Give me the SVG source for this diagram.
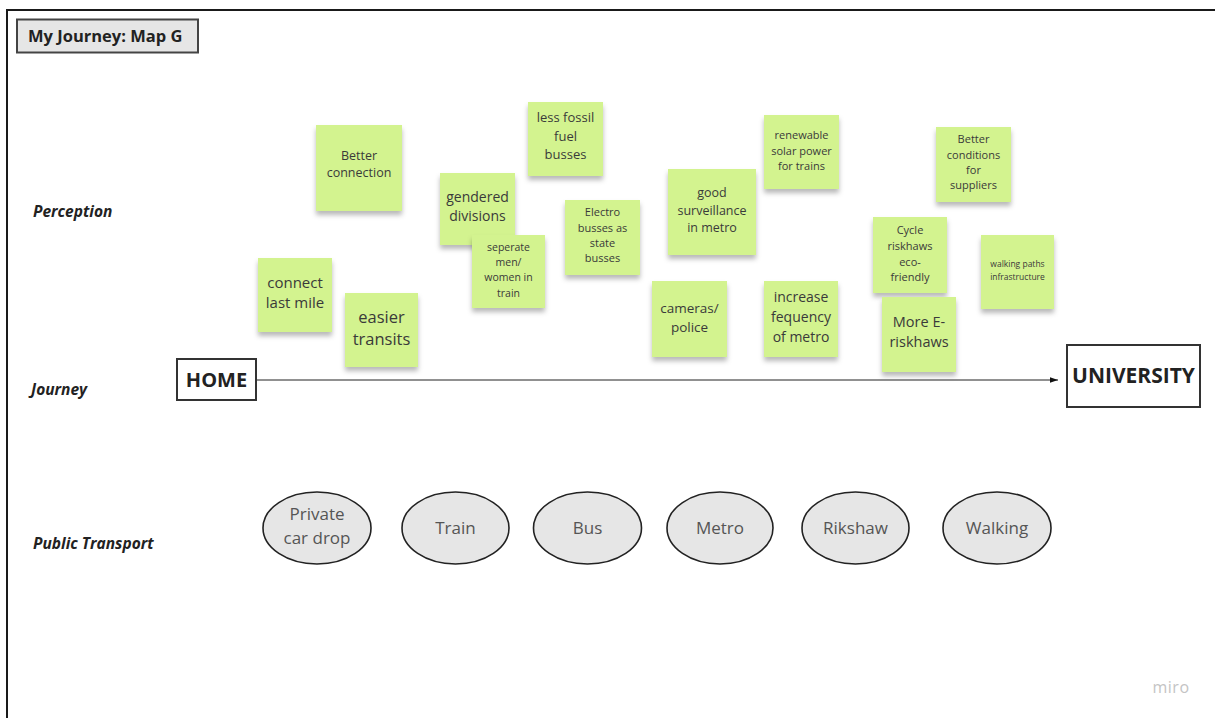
<svg xmlns="http://www.w3.org/2000/svg" width="1215" height="718" viewBox="0 0 1215 718">
<style>
text{font-family:"Open Sans","Noto Sans","Liberation Sans",sans-serif;}
.sticky{fill:#d3f38f;filter:url(#sh);}
.st{fill:#3a3a3a;text-anchor:middle;}
.lane{font-weight:bold;font-style:italic;font-size:15.500px;fill:#222;}
.ell{fill:#e6e6e6;stroke:#222;stroke-width:1.6;}
.et{fill:#555;font-size:17px;text-anchor:middle;}
.box{fill:#fff;stroke:#333;stroke-width:2;}
.bt{font-weight:bold;fill:#222;text-anchor:middle;}
</style>
<defs>
<filter id="sh" x="-20%" y="-20%" width="140%" height="150%">
<feDropShadow dx="0" dy="4" stdDeviation="2.5" flood-color="#000" flood-opacity="0.28"/>
</filter>
<marker id="arr" viewBox="0 0 10 10" refX="10" refY="5" markerWidth="12" markerHeight="8" markerUnits="userSpaceOnUse" orient="auto">
<path d="M0,1.5 L10,5 L0,8.5 Z" fill="#111"/>
</marker>
</defs>
<rect width="1215" height="718" fill="#fff"/>
<path d="M7,718 V10 H1215" fill="none" stroke="#1a1a1a" stroke-width="2"/>

<g id="title">
<rect x="17" y="19.500" width="181" height="33" fill="#e6e6e6" stroke="#444" stroke-width="2"/>
<text x="28" y="42" font-size="16.500" font-weight="bold" fill="#222">My Journey: Map G</text>
</g>

<g id="lanes">
<text class="lane" x="33" y="217">Perception</text>
<text class="lane" x="31" y="395">Journey</text>
<text class="lane" x="33" y="549">Public Transport</text>
</g>

<g id="connectors">
<line x1="256" y1="380" x2="1058" y2="380" stroke="#222" stroke-width="1" marker-end="url(#arr)"/>
</g>

<g id="home">
<rect class="box" x="177" y="359" width="79" height="41"/>
<text class="bt" x="216.500" y="386.500" font-size="20">HOME</text>
</g>
<g id="university">
<rect class="box" x="1067" y="345" width="133" height="62"/>
<text class="bt" x="1133.500" y="383" font-size="21">UNIVERSITY</text>
</g>

<g id="n-better-connection">
<rect class="sticky" x="316" y="125" width="86" height="86"/>
<text class="st" font-size="12.500"><tspan x="359" y="160">Better</tspan><tspan x="359" y="177">connection</tspan></text>
</g>
<g id="n-less-fossil">
<rect class="sticky" x="528" y="102" width="75" height="74"/>
<text class="st" font-size="13"><tspan x="565.500" y="122">less fossil</tspan><tspan x="565.500" y="141">fuel</tspan><tspan x="565.500" y="159">busses</tspan></text>
</g>
<g id="n-gendered">
<rect class="sticky" x="440" y="173" width="75" height="72"/>
<text class="st" font-size="14"><tspan x="477.500" y="202">gendered</tspan><tspan x="477.500" y="221">divisions</tspan></text>
</g>
<g id="n-seperate">
<rect class="sticky" x="472" y="235" width="73" height="73"/>
<text class="st" font-size="10.500"><tspan x="508.500" y="251">seperate</tspan><tspan x="508.500" y="266">men/</tspan><tspan x="508.500" y="281">women in</tspan><tspan x="508.500" y="297">train</tspan></text>
</g>
<g id="n-electro">
<rect class="sticky" x="565" y="200" width="75" height="75"/>
<text class="st" font-size="11"><tspan x="602.500" y="216">Electro</tspan><tspan x="602.500" y="232">busses as</tspan><tspan x="602.500" y="247">state</tspan><tspan x="602.500" y="262">busses</tspan></text>
</g>
<g id="n-surveillance">
<rect class="sticky" x="668" y="169" width="88" height="86"/>
<text class="st" font-size="12.500"><tspan x="712" y="197">good</tspan><tspan x="712" y="215">surveillance</tspan><tspan x="712" y="232">in metro</tspan></text>
</g>
<g id="n-renewable">
<rect class="sticky" x="764" y="115" width="75" height="74"/>
<text class="st" font-size="11"><tspan x="801.500" y="139">renewable</tspan><tspan x="801.500" y="155">solar power</tspan><tspan x="801.500" y="170">for trains</tspan></text>
</g>
<g id="n-suppliers">
<rect class="sticky" x="936" y="127" width="75" height="75"/>
<text class="st" font-size="11"><tspan x="973.500" y="143">Better</tspan><tspan x="973.500" y="159">conditions</tspan><tspan x="973.500" y="174">for</tspan><tspan x="973.500" y="189">suppliers</tspan></text>
</g>
<g id="n-cycle">
<rect class="sticky" x="873" y="217" width="74" height="76"/>
<text class="st" font-size="11"><tspan x="910" y="234">Cycle</tspan><tspan x="910" y="250">riskhaws</tspan><tspan x="910" y="266">eco-</tspan><tspan x="910" y="281">friendly</tspan></text>
</g>
<g id="n-walking">
<rect class="sticky" x="981" y="235" width="73" height="74"/>
<text class="st" font-size="8.500"><tspan x="1017.500" y="267">walking paths</tspan><tspan x="1017.500" y="280">infrastructure</tspan></text>
</g>
<g id="n-more-e">
<rect class="sticky" x="882" y="297" width="74" height="75"/>
<text class="st" font-size="14.500"><tspan x="919" y="327">More E-</tspan><tspan x="919" y="347">riskhaws</tspan></text>
</g>
<g id="n-connect">
<rect class="sticky" x="258" y="258" width="74" height="74"/>
<text class="st" font-size="15"><tspan x="295" y="288">connect</tspan><tspan x="295" y="308">last mile</tspan></text>
</g>
<g id="n-easier">
<rect class="sticky" x="345" y="293" width="73" height="74"/>
<text class="st" font-size="16.500"><tspan x="381.500" y="323">easier</tspan><tspan x="381.500" y="345">transits</tspan></text>
</g>
<g id="n-cameras">
<rect class="sticky" x="652" y="281" width="75" height="76"/>
<text class="st" font-size="13.500"><tspan x="689.500" y="313">cameras/</tspan><tspan x="689.500" y="332">police</tspan></text>
</g>
<g id="n-increase">
<rect class="sticky" x="764" y="281" width="74" height="76"/>
<text class="st" font-size="14"><tspan x="801" y="302">increase</tspan><tspan x="801" y="322">fequency</tspan><tspan x="801" y="342">of metro</tspan></text>
</g>

<g id="t-private">
<ellipse class="ell" cx="317" cy="528" rx="54" ry="36"/>
<text class="et"><tspan x="317" y="520">Private</tspan><tspan x="317" y="544">car drop</tspan></text>
</g>
<g id="t-train">
<ellipse class="ell" cx="455.500" cy="528" rx="53.500" ry="36"/>
<text class="et" x="455.500" y="534">Train</text>
</g>
<g id="t-bus">
<ellipse class="ell" cx="587.500" cy="528" rx="54" ry="36"/>
<text class="et" x="587.500" y="534">Bus</text>
</g>
<g id="t-metro">
<ellipse class="ell" cx="720" cy="528" rx="53" ry="36"/>
<text class="et" x="720" y="534">Metro</text>
</g>
<g id="t-rikshaw">
<ellipse class="ell" cx="855.500" cy="528" rx="53.500" ry="36"/>
<text class="et" x="855.500" y="534">Rikshaw</text>
</g>
<g id="t-walking">
<ellipse class="ell" cx="997" cy="528" rx="54" ry="36"/>
<text class="et" x="997" y="534">Walking</text>
</g>

<text x="1171" y="693" font-size="16" fill="#c4c4c4" text-anchor="middle" letter-spacing="0.5">miro</text>
</svg>
